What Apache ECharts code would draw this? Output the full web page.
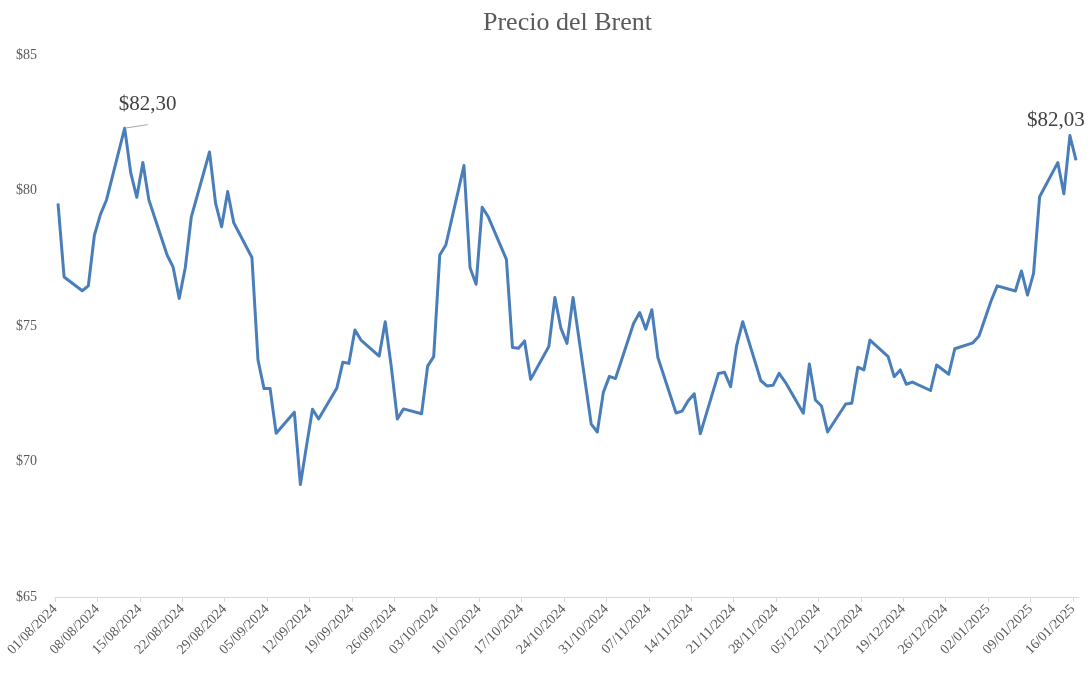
<!DOCTYPE html>
<html>
<head>
<meta charset="utf-8">
<script src="https://cdn.jsdelivr.net/npm/echarts@6/dist/echarts.min.js"></script>
<style>html,body{margin:0;padding:0;background:#fff}#c{width:1092px;height:676px}</style>
</head>
<body>
<div id="c"></div>
<script>
const dates = [
"2024-08-01","2024-08-02","2024-08-05","2024-08-06","2024-08-07","2024-08-08","2024-08-09",
"2024-08-12","2024-08-13","2024-08-14","2024-08-15","2024-08-16",
"2024-08-19","2024-08-20","2024-08-21","2024-08-22","2024-08-23",
"2024-08-26","2024-08-27","2024-08-28","2024-08-29","2024-08-30",
"2024-09-02","2024-09-03","2024-09-04","2024-09-05","2024-09-06",
"2024-09-09","2024-09-10","2024-09-11","2024-09-12","2024-09-13",
"2024-09-16","2024-09-17","2024-09-18","2024-09-19","2024-09-20",
"2024-09-23","2024-09-24","2024-09-25","2024-09-26","2024-09-27",
"2024-09-30","2024-10-01","2024-10-02","2024-10-03","2024-10-04",
"2024-10-07","2024-10-08","2024-10-09","2024-10-10","2024-10-11",
"2024-10-14","2024-10-15","2024-10-16","2024-10-17","2024-10-18",
"2024-10-21","2024-10-22","2024-10-23","2024-10-24","2024-10-25",
"2024-10-28","2024-10-29","2024-10-30","2024-10-31","2024-11-01",
"2024-11-04","2024-11-05","2024-11-06","2024-11-07","2024-11-08",
"2024-11-11","2024-11-12","2024-11-13","2024-11-14","2024-11-15",
"2024-11-18","2024-11-19","2024-11-20","2024-11-21","2024-11-22",
"2024-11-25","2024-11-26","2024-11-27","2024-11-28","2024-11-29",
"2024-12-02","2024-12-03","2024-12-04","2024-12-05","2024-12-06",
"2024-12-09","2024-12-10","2024-12-11","2024-12-12","2024-12-13",
"2024-12-16","2024-12-17","2024-12-18","2024-12-19","2024-12-20",
"2024-12-23","2024-12-24","2024-12-26","2024-12-27",
"2024-12-30","2024-12-31","2025-01-02","2025-01-03",
"2025-01-06","2025-01-07","2025-01-08","2025-01-09","2025-01-10",
"2025-01-13","2025-01-14","2025-01-15","2025-01-16"
];
const prices = [
79.52,76.81,76.30,76.48,78.35,79.12,79.65,
82.30,80.65,79.75,81.03,79.65,
77.62,77.17,76.02,77.15,79.03,
81.42,79.53,78.66,79.96,78.81,
77.53,73.75,72.69,72.69,71.04,
71.82,69.15,70.56,71.93,71.57,
72.70,73.66,73.62,74.85,74.48,
73.89,75.16,73.50,71.57,71.94,
71.76,73.52,73.87,77.62,77.99,
80.92,77.15,76.54,79.38,79.03,
77.46,74.21,74.18,74.45,73.03,
74.24,76.05,74.91,74.36,76.05,
71.38,71.09,72.55,73.14,73.06,
75.10,75.50,74.88,75.60,73.84,
71.79,71.86,72.24,72.50,71.02,
73.25,73.29,72.76,74.28,75.16,
72.98,72.79,72.81,73.25,72.94,
71.78,73.60,72.27,72.05,71.09,
72.12,72.15,73.48,73.38,74.48,
73.87,73.13,73.38,72.85,72.93,
72.62,73.56,73.22,74.16,
74.38,74.63,75.93,76.48,
76.29,77.03,76.14,76.94,79.77,
81.03,79.88,82.03,81.12
];
const labelled = ["2024-08-12","2025-01-15"];
const yTicks = [65,70,75,80,85];

const DAY = 86400000;
const t0 = Date.UTC(2024,7,1);
function dayIdx(s){const p=s.split('-');return Math.round((Date.UTC(+p[0],+p[1]-1,+p[2])-t0)/DAY);}
function fmtDate(i){const d=new Date(t0+Math.round(i)*DAY);const dd=String(d.getUTCDate()).padStart(2,'0');const mm=String(d.getUTCMonth()+1).padStart(2,'0');return dd+'/'+mm+'/'+d.getUTCFullYear();}
function money(v){return '$'+v.toFixed(2).replace('.',',');}

const FONT = '"Liberation Serif","DejaVu Serif",serif';
const LINE = '#4a7ebb';
const data = dates.map((d,i)=>{
  const item = {value:[dayIdx(d), prices[i]]};
  const k = labelled.indexOf(d);
  if(k===0){
    item.label={show:true,position:'top',distance:10,offset:[23,-3],lineHeight:20,formatter:money(prices[i]),fontSize:21,color:'#404040',fontFamily:FONT};
    item.labelLine={show:true,lineStyle:{color:'#a6a6a6',width:1}};
  } else if(k===1){
    item.label={show:true,position:'top',distance:5,offset:[-14,1],formatter:money(prices[i]),fontSize:21,color:'#404040',fontFamily:FONT};
  }
  return item;
});
const lastDay = dayIdx(dates[dates.length-1]);

const chart = echarts.init(document.getElementById('c'),null,{renderer:'canvas'});
chart.setOption({
  animation:false,
  backgroundColor:'#fff',
  title:{text:'Precio del Brent',left:478,top:5,textStyle:{fontFamily:FONT,fontSize:26,fontWeight:'normal',color:'#595959'}},
  grid:{left:55,right:13,top:55,bottom:79,containLabel:false},
  xAxis:{
    type:'value',min:-0.5,max:lastDay+0.5,interval:7,
    axisLine:{show:true,lineStyle:{color:'#d9d9d9',width:1}},
    axisTick:{show:true,length:5,lineStyle:{color:'#d9d9d9'}},
    splitLine:{show:false},
    axisLabel:{rotate:45,margin:10,fontFamily:FONT,fontSize:14,color:'#595959',showMaxLabel:false,formatter:v=>fmtDate(v+0.5)}
  },
  yAxis:{
    type:'value',min:yTicks[0],max:yTicks[yTicks.length-1],interval:5,
    axisLine:{show:false},axisTick:{show:false},splitLine:{show:false},
    axisLabel:{margin:18,fontFamily:FONT,fontSize:14,color:'#595959',formatter:v=>'$'+v}
  },
  series:[{
    type:'line',data:data,showSymbol:true,symbol:'circle',symbolSize:1,
    itemStyle:{color:LINE},
    lineStyle:{color:LINE,width:3,join:'round'},
    emphasis:{disabled:true}
  }]
});
</script>
</body>
</html>
